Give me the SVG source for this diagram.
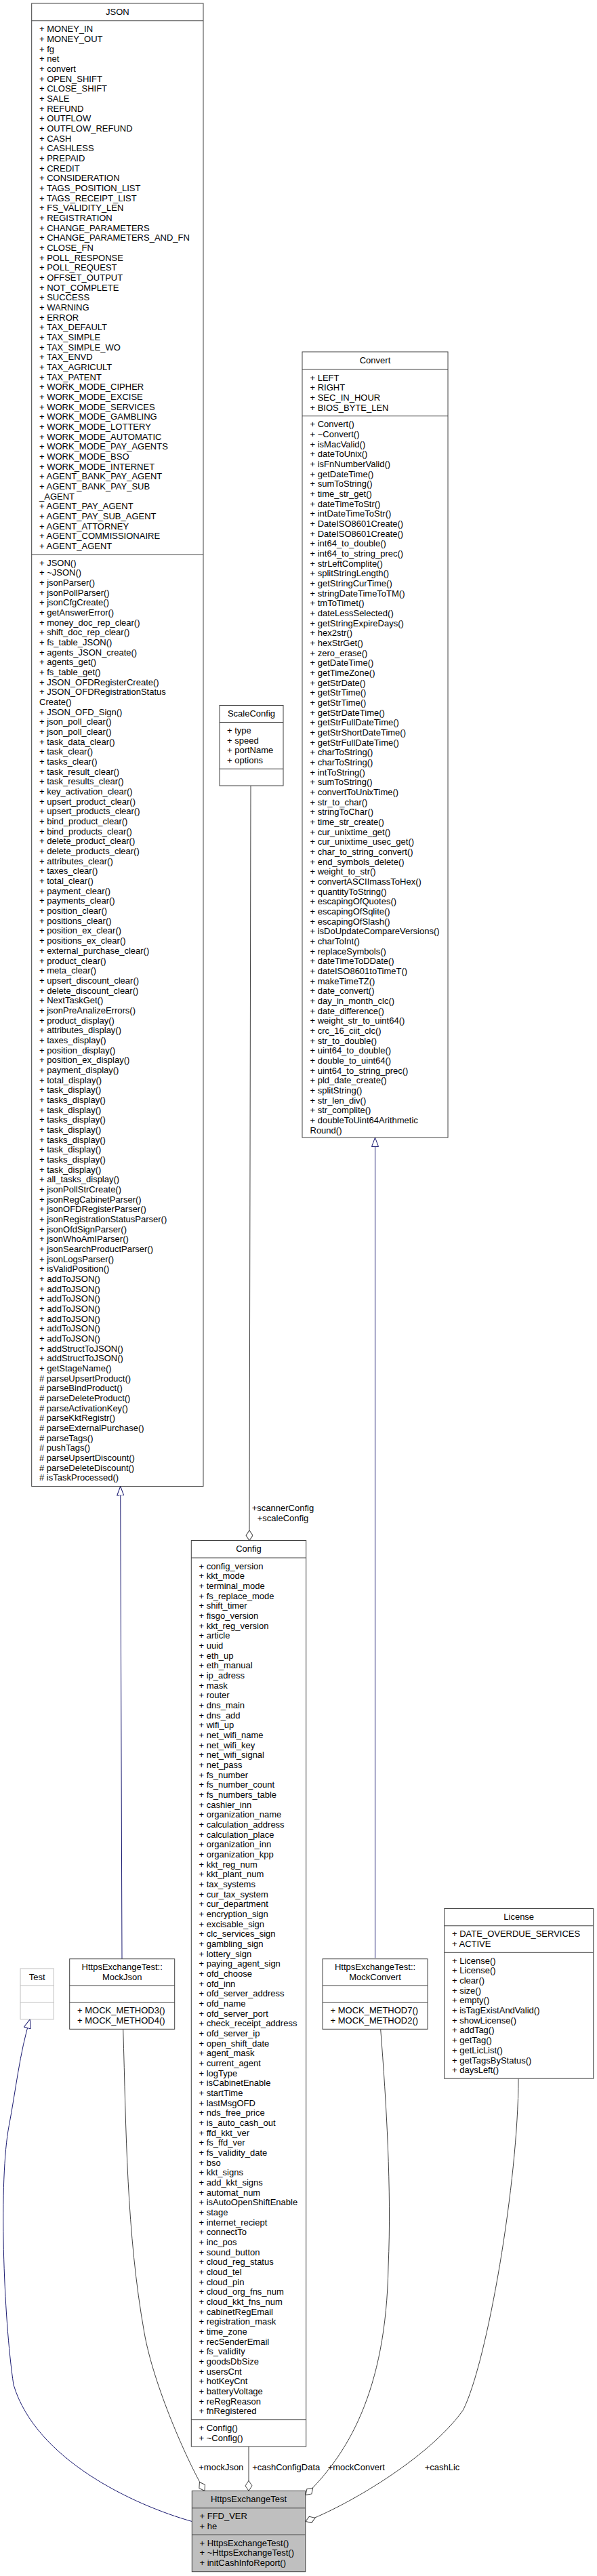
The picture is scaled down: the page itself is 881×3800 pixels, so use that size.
<svg xmlns="http://www.w3.org/2000/svg" width="881" height="3800" viewBox="0 0 881 3800">
<style>
rect.n{fill:#fff;stroke:#404040;stroke-width:1}
rect.f{fill:#bfbfbf;stroke:#404040;stroke-width:1}
rect.g{fill:#fff;stroke:#bfbfbf;stroke-width:1}
line.s{stroke:#404040;stroke-width:1}
line.sg{stroke:#bfbfbf;stroke-width:1}
text{font-family:"Liberation Sans",Arial,Helvetica,sans-serif;font-size:13px;fill:#000}
text.m{text-anchor:middle}
path.inh{fill:none;stroke:#191970;stroke-width:1}
path.agg{fill:none;stroke:#404040;stroke-width:1}
</style>
<defs>
<marker id="tri" markerUnits="userSpaceOnUse" markerWidth="15" markerHeight="11" refX="14" refY="5.5" orient="auto"><path d="M0.5,0.5 L14,5.5 L0.5,10.5 Z" fill="#fff" stroke="#191970"/></marker>
<marker id="dia" markerUnits="userSpaceOnUse" markerWidth="17" markerHeight="12" refX="15.5" refY="5.5" orient="auto"><path d="M0.5,5.5 L8,0.5 L15.5,5.5 L8,10.5 Z" fill="#fff" stroke="#404040"/></marker>
</defs>

<g id="connectors">
<path class="inh" d="M180,2889.7 L177.7,2192.5" marker-end="url(#tri)"/>
<path class="inh" d="M553.5,2888.2 L553.5,1678" marker-end="url(#tri)"/>
<path class="inh" d="M283.3,3719.5 C196.9,3695.2 53,3628 20,3518 C5,3418 -1.9,3214 13.3,3135.6 C22.8,3086.6 29.3,3026.2 44.3,2978.7" marker-end="url(#tri)"/>
<path class="agg" d="M370,1159 L368,2272.5" marker-end="url(#dia)"/>
<path class="agg" d="M181.7,2993.3 C186.2,3143.3 186.6,3294 213,3441.6 C227.1,3520.3 276.7,3631.3 302,3674.4" marker-end="url(#dia)"/>
<path class="agg" d="M367,3609 L367,3674.4" marker-end="url(#dia)"/>
<path class="agg" d="M561.7,2993.8 C570,3100 578,3230 573,3343 C570,3530 511,3622 451,3680.6" marker-end="url(#dia)"/>
<path class="agg" d="M765,3066.2 C765,3216 719.3,3484.3 683.3,3555.5 C631,3628.4 507.4,3698.5 451,3719.5" marker-end="url(#dia)"/>
<text class="m" x="417.5" y="2229">+scannerConfig</text>
<text class="m" x="417.5" y="2244">+scaleConfig</text>
<text class="m" x="326.3" y="3644">+mockJson</text>
<text class="m" x="422.2" y="3644">+cashConfigData</text>
<text class="m" x="525.8" y="3644">+mockConvert</text>
<text class="m" x="652.5" y="3644">+cashLic</text>
</g>

<g id="JSON">
<rect class="n" x="46.7" y="5" width="253.3" height="2187.5"/>
<line class="s" x1="46.7" y1="30.7" x2="300" y2="30.7"/>
<line class="s" x1="46.7" y1="818.2" x2="300" y2="818.2"/>
<text class="m" x="173.4" y="22">JSON</text>
<text y="47.2"><tspan x="58">+ MONEY_IN</tspan><tspan x="58" dy="14.67">+ MONEY_OUT</tspan><tspan x="58" dy="14.67">+ fg</tspan><tspan x="58" dy="14.67">+ net</tspan><tspan x="58" dy="14.67">+ convert</tspan><tspan x="58" dy="14.67">+ OPEN_SHIFT</tspan><tspan x="58" dy="14.67">+ CLOSE_SHIFT</tspan><tspan x="58" dy="14.67">+ SALE</tspan><tspan x="58" dy="14.67">+ REFUND</tspan><tspan x="58" dy="14.67">+ OUTFLOW</tspan><tspan x="58" dy="14.67">+ OUTFLOW_REFUND</tspan><tspan x="58" dy="14.67">+ CASH</tspan><tspan x="58" dy="14.67">+ CASHLESS</tspan><tspan x="58" dy="14.67">+ PREPAID</tspan><tspan x="58" dy="14.67">+ CREDIT</tspan><tspan x="58" dy="14.67">+ CONSIDERATION</tspan><tspan x="58" dy="14.67">+ TAGS_POSITION_LIST</tspan><tspan x="58" dy="14.67">+ TAGS_RECEIPT_LIST</tspan><tspan x="58" dy="14.67">+ FS_VALIDITY_LEN</tspan><tspan x="58" dy="14.67">+ REGISTRATION</tspan><tspan x="58" dy="14.67">+ CHANGE_PARAMETERS</tspan><tspan x="58" dy="14.67">+ CHANGE_PARAMETERS_AND_FN</tspan><tspan x="58" dy="14.67">+ CLOSE_FN</tspan><tspan x="58" dy="14.67">+ POLL_RESPONSE</tspan><tspan x="58" dy="14.67">+ POLL_REQUEST</tspan><tspan x="58" dy="14.67">+ OFFSET_OUTPUT</tspan><tspan x="58" dy="14.67">+ NOT_COMPLETE</tspan><tspan x="58" dy="14.67">+ SUCCESS</tspan><tspan x="58" dy="14.67">+ WARNING</tspan><tspan x="58" dy="14.67">+ ERROR</tspan><tspan x="58" dy="14.67">+ TAX_DEFAULT</tspan><tspan x="58" dy="14.67">+ TAX_SIMPLE</tspan><tspan x="58" dy="14.67">+ TAX_SIMPLE_WO</tspan><tspan x="58" dy="14.67">+ TAX_ENVD</tspan><tspan x="58" dy="14.67">+ TAX_AGRICULT</tspan><tspan x="58" dy="14.67">+ TAX_PATENT</tspan><tspan x="58" dy="14.67">+ WORK_MODE_CIPHER</tspan><tspan x="58" dy="14.67">+ WORK_MODE_EXCISE</tspan><tspan x="58" dy="14.67">+ WORK_MODE_SERVICES</tspan><tspan x="58" dy="14.67">+ WORK_MODE_GAMBLING</tspan><tspan x="58" dy="14.67">+ WORK_MODE_LOTTERY</tspan><tspan x="58" dy="14.67">+ WORK_MODE_AUTOMATIC</tspan><tspan x="58" dy="14.67">+ WORK_MODE_PAY_AGENTS</tspan><tspan x="58" dy="14.67">+ WORK_MODE_BSO</tspan><tspan x="58" dy="14.67">+ WORK_MODE_INTERNET</tspan><tspan x="58" dy="14.67">+ AGENT_BANK_PAY_AGENT</tspan><tspan x="58" dy="14.67">+ AGENT_BANK_PAY_SUB</tspan><tspan x="58" dy="14.67">_AGENT</tspan><tspan x="58" dy="14.67">+ AGENT_PAY_AGENT</tspan><tspan x="58" dy="14.67">+ AGENT_PAY_SUB_AGENT</tspan><tspan x="58" dy="14.67">+ AGENT_ATTORNEY</tspan><tspan x="58" dy="14.67">+ AGENT_COMMISSIONAIRE</tspan><tspan x="58" dy="14.67">+ AGENT_AGENT</tspan></text>
<text y="834.7"><tspan x="58">+ JSON()</tspan><tspan x="58" dy="14.67">+ ~JSON()</tspan><tspan x="58" dy="14.67">+ jsonParser()</tspan><tspan x="58" dy="14.67">+ jsonPollParser()</tspan><tspan x="58" dy="14.67">+ jsonCfgCreate()</tspan><tspan x="58" dy="14.67">+ getAnswerError()</tspan><tspan x="58" dy="14.67">+ money_doc_rep_clear()</tspan><tspan x="58" dy="14.67">+ shift_doc_rep_clear()</tspan><tspan x="58" dy="14.67">+ fs_table_JSON()</tspan><tspan x="58" dy="14.67">+ agents_JSON_create()</tspan><tspan x="58" dy="14.67">+ agents_get()</tspan><tspan x="58" dy="14.67">+ fs_table_get()</tspan><tspan x="58" dy="14.67">+ JSON_OFDRegisterCreate()</tspan><tspan x="58" dy="14.67">+ JSON_OFDRegistrationStatus</tspan><tspan x="58" dy="14.67">Create()</tspan><tspan x="58" dy="14.67">+ JSON_OFD_Sign()</tspan><tspan x="58" dy="14.67">+ json_poll_clear()</tspan><tspan x="58" dy="14.67">+ json_poll_clear()</tspan><tspan x="58" dy="14.67">+ task_data_clear()</tspan><tspan x="58" dy="14.67">+ task_clear()</tspan><tspan x="58" dy="14.67">+ tasks_clear()</tspan><tspan x="58" dy="14.67">+ task_result_clear()</tspan><tspan x="58" dy="14.67">+ task_results_clear()</tspan><tspan x="58" dy="14.67">+ key_activation_clear()</tspan><tspan x="58" dy="14.67">+ upsert_product_clear()</tspan><tspan x="58" dy="14.67">+ upsert_products_clear()</tspan><tspan x="58" dy="14.67">+ bind_product_clear()</tspan><tspan x="58" dy="14.67">+ bind_products_clear()</tspan><tspan x="58" dy="14.67">+ delete_product_clear()</tspan><tspan x="58" dy="14.67">+ delete_products_clear()</tspan><tspan x="58" dy="14.67">+ attributes_clear()</tspan><tspan x="58" dy="14.67">+ taxes_clear()</tspan><tspan x="58" dy="14.67">+ total_clear()</tspan><tspan x="58" dy="14.67">+ payment_clear()</tspan><tspan x="58" dy="14.67">+ payments_clear()</tspan><tspan x="58" dy="14.67">+ position_clear()</tspan><tspan x="58" dy="14.67">+ positions_clear()</tspan><tspan x="58" dy="14.67">+ position_ex_clear()</tspan><tspan x="58" dy="14.67">+ positions_ex_clear()</tspan><tspan x="58" dy="14.67">+ external_purchase_clear()</tspan><tspan x="58" dy="14.67">+ product_clear()</tspan><tspan x="58" dy="14.67">+ meta_clear()</tspan><tspan x="58" dy="14.67">+ upsert_discount_clear()</tspan><tspan x="58" dy="14.67">+ delete_discount_clear()</tspan><tspan x="58" dy="14.67">+ NextTaskGet()</tspan><tspan x="58" dy="14.67">+ jsonPreAnalizeErrors()</tspan><tspan x="58" dy="14.67">+ product_display()</tspan><tspan x="58" dy="14.67">+ attributes_display()</tspan><tspan x="58" dy="14.67">+ taxes_display()</tspan><tspan x="58" dy="14.67">+ position_display()</tspan><tspan x="58" dy="14.67">+ position_ex_display()</tspan><tspan x="58" dy="14.67">+ payment_display()</tspan><tspan x="58" dy="14.67">+ total_display()</tspan><tspan x="58" dy="14.67">+ task_display()</tspan><tspan x="58" dy="14.67">+ tasks_display()</tspan><tspan x="58" dy="14.67">+ task_display()</tspan><tspan x="58" dy="14.67">+ tasks_display()</tspan><tspan x="58" dy="14.67">+ task_display()</tspan><tspan x="58" dy="14.67">+ tasks_display()</tspan><tspan x="58" dy="14.67">+ task_display()</tspan><tspan x="58" dy="14.67">+ tasks_display()</tspan><tspan x="58" dy="14.67">+ task_display()</tspan><tspan x="58" dy="14.67">+ all_tasks_display()</tspan><tspan x="58" dy="14.67">+ jsonPollStrCreate()</tspan><tspan x="58" dy="14.67">+ jsonRegCabinetParser()</tspan><tspan x="58" dy="14.67">+ jsonOFDRegisterParser()</tspan><tspan x="58" dy="14.67">+ jsonRegistrationStatusParser()</tspan><tspan x="58" dy="14.67">+ jsonOfdSignParser()</tspan><tspan x="58" dy="14.67">+ jsonWhoAmIParser()</tspan><tspan x="58" dy="14.67">+ jsonSearchProductParser()</tspan><tspan x="58" dy="14.67">+ jsonLogsParser()</tspan><tspan x="58" dy="14.67">+ isValidPosition()</tspan><tspan x="58" dy="14.67">+ addToJSON()</tspan><tspan x="58" dy="14.67">+ addToJSON()</tspan><tspan x="58" dy="14.67">+ addToJSON()</tspan><tspan x="58" dy="14.67">+ addToJSON()</tspan><tspan x="58" dy="14.67">+ addToJSON()</tspan><tspan x="58" dy="14.67">+ addToJSON()</tspan><tspan x="58" dy="14.67">+ addToJSON()</tspan><tspan x="58" dy="14.67">+ addStructToJSON()</tspan><tspan x="58" dy="14.67">+ addStructToJSON()</tspan><tspan x="58" dy="14.67">+ getStageName()</tspan><tspan x="58" dy="14.67"># parseUpsertProduct()</tspan><tspan x="58" dy="14.67"># parseBindProduct()</tspan><tspan x="58" dy="14.67"># parseDeleteProduct()</tspan><tspan x="58" dy="14.67"># parseActivationKey()</tspan><tspan x="58" dy="14.67"># parseKktRegistr()</tspan><tspan x="58" dy="14.67"># parseExternalPurchase()</tspan><tspan x="58" dy="14.67"># parseTags()</tspan><tspan x="58" dy="14.67"># pushTags()</tspan><tspan x="58" dy="14.67"># parseUpsertDiscount()</tspan><tspan x="58" dy="14.67"># parseDeleteDiscount()</tspan><tspan x="58" dy="14.67"># isTaskProcessed()</tspan></text>
</g>

<g id="Convert">
<rect class="n" x="446" y="519" width="215" height="1159"/>
<line class="s" x1="446" y1="545" x2="661" y2="545"/>
<line class="s" x1="446" y1="613.7" x2="661" y2="613.7"/>
<text class="m" x="553.5" y="535.5">Convert</text>
<text y="561.5"><tspan x="457.5">+ LEFT</tspan><tspan x="457.5" dy="14.67">+ RIGHT</tspan><tspan x="457.5" dy="14.67">+ SEC_IN_HOUR</tspan><tspan x="457.5" dy="14.67">+ BIOS_BYTE_LEN</tspan></text>
<text y="630.2"><tspan x="457.5">+ Convert()</tspan><tspan x="457.5" dy="14.67">+ ~Convert()</tspan><tspan x="457.5" dy="14.67">+ isMacValid()</tspan><tspan x="457.5" dy="14.67">+ dateToUnix()</tspan><tspan x="457.5" dy="14.67">+ isFnNumberValid()</tspan><tspan x="457.5" dy="14.67">+ getDateTime()</tspan><tspan x="457.5" dy="14.67">+ sumToString()</tspan><tspan x="457.5" dy="14.67">+ time_str_get()</tspan><tspan x="457.5" dy="14.67">+ dateTimeToStr()</tspan><tspan x="457.5" dy="14.67">+ intDateTimeToStr()</tspan><tspan x="457.5" dy="14.67">+ DateISO8601Create()</tspan><tspan x="457.5" dy="14.67">+ DateISO8601Create()</tspan><tspan x="457.5" dy="14.67">+ int64_to_double()</tspan><tspan x="457.5" dy="14.67">+ int64_to_string_prec()</tspan><tspan x="457.5" dy="14.67">+ strLeftComplite()</tspan><tspan x="457.5" dy="14.67">+ splitStringLength()</tspan><tspan x="457.5" dy="14.67">+ getStringCurTime()</tspan><tspan x="457.5" dy="14.67">+ stringDateTimeToTM()</tspan><tspan x="457.5" dy="14.67">+ tmToTimet()</tspan><tspan x="457.5" dy="14.67">+ dateLessSelected()</tspan><tspan x="457.5" dy="14.67">+ getStringExpireDays()</tspan><tspan x="457.5" dy="14.67">+ hex2str()</tspan><tspan x="457.5" dy="14.67">+ hexStrGet()</tspan><tspan x="457.5" dy="14.67">+ zero_erase()</tspan><tspan x="457.5" dy="14.67">+ getDateTime()</tspan><tspan x="457.5" dy="14.67">+ getTimeZone()</tspan><tspan x="457.5" dy="14.67">+ getStrDate()</tspan><tspan x="457.5" dy="14.67">+ getStrTime()</tspan><tspan x="457.5" dy="14.67">+ getStrTime()</tspan><tspan x="457.5" dy="14.67">+ getStrDateTime()</tspan><tspan x="457.5" dy="14.67">+ getStrFullDateTime()</tspan><tspan x="457.5" dy="14.67">+ getStrShortDateTime()</tspan><tspan x="457.5" dy="14.67">+ getStrFullDateTime()</tspan><tspan x="457.5" dy="14.67">+ charToString()</tspan><tspan x="457.5" dy="14.67">+ charToString()</tspan><tspan x="457.5" dy="14.67">+ intToString()</tspan><tspan x="457.5" dy="14.67">+ sumToString()</tspan><tspan x="457.5" dy="14.67">+ convertToUnixTime()</tspan><tspan x="457.5" dy="14.67">+ str_to_char()</tspan><tspan x="457.5" dy="14.67">+ stringToChar()</tspan><tspan x="457.5" dy="14.67">+ time_str_create()</tspan><tspan x="457.5" dy="14.67">+ cur_unixtime_get()</tspan><tspan x="457.5" dy="14.67">+ cur_unixtime_usec_get()</tspan><tspan x="457.5" dy="14.67">+ char_to_string_convert()</tspan><tspan x="457.5" dy="14.67">+ end_symbols_delete()</tspan><tspan x="457.5" dy="14.67">+ weight_to_str()</tspan><tspan x="457.5" dy="14.67">+ convertASCIImassToHex()</tspan><tspan x="457.5" dy="14.67">+ quantityToString()</tspan><tspan x="457.5" dy="14.67">+ escapingOfQuotes()</tspan><tspan x="457.5" dy="14.67">+ escapingOfSqlite()</tspan><tspan x="457.5" dy="14.67">+ escapingOfSlash()</tspan><tspan x="457.5" dy="14.67">+ isDoUpdateCompareVersions()</tspan><tspan x="457.5" dy="14.67">+ charToInt()</tspan><tspan x="457.5" dy="14.67">+ replaceSymbols()</tspan><tspan x="457.5" dy="14.67">+ dateTimeToDDate()</tspan><tspan x="457.5" dy="14.67">+ dateISO8601toTimeT()</tspan><tspan x="457.5" dy="14.67">+ makeTimeTZ()</tspan><tspan x="457.5" dy="14.67">+ date_convert()</tspan><tspan x="457.5" dy="14.67">+ day_in_month_clc()</tspan><tspan x="457.5" dy="14.67">+ date_difference()</tspan><tspan x="457.5" dy="14.67">+ weight_str_to_uint64()</tspan><tspan x="457.5" dy="14.67">+ crc_16_ciit_clc()</tspan><tspan x="457.5" dy="14.67">+ str_to_double()</tspan><tspan x="457.5" dy="14.67">+ uint64_to_double()</tspan><tspan x="457.5" dy="14.67">+ double_to_uint64()</tspan><tspan x="457.5" dy="14.67">+ uint64_to_string_prec()</tspan><tspan x="457.5" dy="14.67">+ pld_date_create()</tspan><tspan x="457.5" dy="14.67">+ splitString()</tspan><tspan x="457.5" dy="14.67">+ str_len_div()</tspan><tspan x="457.5" dy="14.67">+ str_complite()</tspan><tspan x="457.5" dy="14.67">+ doubleToUint64Arithmetic</tspan><tspan x="457.5" dy="14.67">Round()</tspan></text>
</g>

<g id="ScaleConfig">
<rect class="n" x="324" y="1040.5" width="94" height="118.5"/>
<line class="s" x1="324" y1="1065.5" x2="418" y2="1065.5"/>
<line class="s" x1="324" y1="1134.2" x2="418" y2="1134.2"/>
<text class="m" x="371" y="1057">ScaleConfig</text>
<text y="1082"><tspan x="335">+ type</tspan><tspan x="335" dy="14.67">+ speed</tspan><tspan x="335" dy="14.67">+ portName</tspan><tspan x="335" dy="14.67">+ options</tspan></text>
</g>

<g id="Config">
<rect class="n" x="282.3" y="2272.5" width="169.4" height="1336.5"/>
<line class="s" x1="282.3" y1="2298" x2="451.7" y2="2298"/>
<line class="s" x1="282.3" y1="3569.6" x2="451.7" y2="3569.6"/>
<text class="m" x="367" y="2289">Config</text>
<text y="2314.5"><tspan x="293.5">+ config_version</tspan><tspan x="293.5" dy="14.67">+ kkt_mode</tspan><tspan x="293.5" dy="14.67">+ terminal_mode</tspan><tspan x="293.5" dy="14.67">+ fs_replace_mode</tspan><tspan x="293.5" dy="14.67">+ shift_timer</tspan><tspan x="293.5" dy="14.67">+ fisgo_version</tspan><tspan x="293.5" dy="14.67">+ kkt_reg_version</tspan><tspan x="293.5" dy="14.67">+ article</tspan><tspan x="293.5" dy="14.67">+ uuid</tspan><tspan x="293.5" dy="14.67">+ eth_up</tspan><tspan x="293.5" dy="14.67">+ eth_manual</tspan><tspan x="293.5" dy="14.67">+ ip_adress</tspan><tspan x="293.5" dy="14.67">+ mask</tspan><tspan x="293.5" dy="14.67">+ router</tspan><tspan x="293.5" dy="14.67">+ dns_main</tspan><tspan x="293.5" dy="14.67">+ dns_add</tspan><tspan x="293.5" dy="14.67">+ wifi_up</tspan><tspan x="293.5" dy="14.67">+ net_wifi_name</tspan><tspan x="293.5" dy="14.67">+ net_wifi_key</tspan><tspan x="293.5" dy="14.67">+ net_wifi_signal</tspan><tspan x="293.5" dy="14.67">+ net_pass</tspan><tspan x="293.5" dy="14.67">+ fs_number</tspan><tspan x="293.5" dy="14.67">+ fs_number_count</tspan><tspan x="293.5" dy="14.67">+ fs_numbers_table</tspan><tspan x="293.5" dy="14.67">+ cashier_inn</tspan><tspan x="293.5" dy="14.67">+ organization_name</tspan><tspan x="293.5" dy="14.67">+ calculation_address</tspan><tspan x="293.5" dy="14.67">+ calculation_place</tspan><tspan x="293.5" dy="14.67">+ organization_inn</tspan><tspan x="293.5" dy="14.67">+ organization_kpp</tspan><tspan x="293.5" dy="14.67">+ kkt_reg_num</tspan><tspan x="293.5" dy="14.67">+ kkt_plant_num</tspan><tspan x="293.5" dy="14.67">+ tax_systems</tspan><tspan x="293.5" dy="14.67">+ cur_tax_system</tspan><tspan x="293.5" dy="14.67">+ cur_department</tspan><tspan x="293.5" dy="14.67">+ encryption_sign</tspan><tspan x="293.5" dy="14.67">+ excisable_sign</tspan><tspan x="293.5" dy="14.67">+ clc_services_sign</tspan><tspan x="293.5" dy="14.67">+ gambling_sign</tspan><tspan x="293.5" dy="14.67">+ lottery_sign</tspan><tspan x="293.5" dy="14.67">+ paying_agent_sign</tspan><tspan x="293.5" dy="14.67">+ ofd_choose</tspan><tspan x="293.5" dy="14.67">+ ofd_inn</tspan><tspan x="293.5" dy="14.67">+ ofd_server_address</tspan><tspan x="293.5" dy="14.67">+ ofd_name</tspan><tspan x="293.5" dy="14.67">+ ofd_server_port</tspan><tspan x="293.5" dy="14.67">+ check_receipt_address</tspan><tspan x="293.5" dy="14.67">+ ofd_server_ip</tspan><tspan x="293.5" dy="14.67">+ open_shift_date</tspan><tspan x="293.5" dy="14.67">+ agent_mask</tspan><tspan x="293.5" dy="14.67">+ current_agent</tspan><tspan x="293.5" dy="14.67">+ logType</tspan><tspan x="293.5" dy="14.67">+ isCabinetEnable</tspan><tspan x="293.5" dy="14.67">+ startTime</tspan><tspan x="293.5" dy="14.67">+ lastMsgOFD</tspan><tspan x="293.5" dy="14.67">+ nds_free_price</tspan><tspan x="293.5" dy="14.67">+ is_auto_cash_out</tspan><tspan x="293.5" dy="14.67">+ ffd_kkt_ver</tspan><tspan x="293.5" dy="14.67">+ fs_ffd_ver</tspan><tspan x="293.5" dy="14.67">+ fs_validity_date</tspan><tspan x="293.5" dy="14.67">+ bso</tspan><tspan x="293.5" dy="14.67">+ kkt_signs</tspan><tspan x="293.5" dy="14.67">+ add_kkt_signs</tspan><tspan x="293.5" dy="14.67">+ automat_num</tspan><tspan x="293.5" dy="14.67">+ isAutoOpenShiftEnable</tspan><tspan x="293.5" dy="14.67">+ stage</tspan><tspan x="293.5" dy="14.67">+ internet_reciept</tspan><tspan x="293.5" dy="14.67">+ connectTo</tspan><tspan x="293.5" dy="14.67">+ inc_pos</tspan><tspan x="293.5" dy="14.67">+ sound_button</tspan><tspan x="293.5" dy="14.67">+ cloud_reg_status</tspan><tspan x="293.5" dy="14.67">+ cloud_tel</tspan><tspan x="293.5" dy="14.67">+ cloud_pin</tspan><tspan x="293.5" dy="14.67">+ cloud_org_fns_num</tspan><tspan x="293.5" dy="14.67">+ cloud_kkt_fns_num</tspan><tspan x="293.5" dy="14.67">+ cabinetRegEmail</tspan><tspan x="293.5" dy="14.67">+ registration_mask</tspan><tspan x="293.5" dy="14.67">+ time_zone</tspan><tspan x="293.5" dy="14.67">+ recSenderEmail</tspan><tspan x="293.5" dy="14.67">+ fs_validity</tspan><tspan x="293.5" dy="14.67">+ goodsDbSize</tspan><tspan x="293.5" dy="14.67">+ usersCnt</tspan><tspan x="293.5" dy="14.67">+ hotKeyCnt</tspan><tspan x="293.5" dy="14.67">+ batteryVoltage</tspan><tspan x="293.5" dy="14.67">+ reRegReason</tspan><tspan x="293.5" dy="14.67">+ fnRegistered</tspan></text>
<text y="3586"><tspan x="293.5">+ Config()</tspan><tspan x="293.5" dy="14.67">+ ~Config()</tspan></text>
</g>

<g id="Test">
<rect class="g" x="30" y="2904" width="49.3" height="74.7"/>
<line class="sg" x1="30" y1="2929" x2="79.3" y2="2929"/>
<line class="sg" x1="30" y1="2953.7" x2="79.3" y2="2953.7"/>
<text class="m" x="54.7" y="2920.5">Test</text>
</g>

<g id="MockJson">
<rect class="n" x="102.7" y="2889.7" width="155" height="103.6"/>
<line class="s" x1="102.7" y1="2929" x2="257.7" y2="2929"/>
<line class="s" x1="102.7" y1="2953.7" x2="257.7" y2="2953.7"/>
<text class="m" x="180.2" y="2906.2">HttpsExchangeTest::</text>
<text class="m" x="180.2" y="2920.9">MockJson</text>
<text y="2970.2"><tspan x="114">+ MOCK_METHOD3()</tspan><tspan x="114" dy="14.67">+ MOCK_METHOD4()</tspan></text>
</g>

<g id="MockConvert">
<rect class="n" x="476" y="2889.7" width="155" height="103.6"/>
<line class="s" x1="476" y1="2929" x2="631" y2="2929"/>
<line class="s" x1="476" y1="2953.7" x2="631" y2="2953.7"/>
<text class="m" x="553.5" y="2906.2">HttpsExchangeTest::</text>
<text class="m" x="553.5" y="2920.9">MockConvert</text>
<text y="2970.2"><tspan x="487.5">+ MOCK_METHOD7()</tspan><tspan x="487.5" dy="14.67">+ MOCK_METHOD2()</tspan></text>
</g>

<g id="License">
<rect class="n" x="655.7" y="2815.5" width="220" height="250.7"/>
<line class="s" x1="655.7" y1="2840.8" x2="875.7" y2="2840.8"/>
<line class="s" x1="655.7" y1="2880.3" x2="875.7" y2="2880.3"/>
<text class="m" x="765.7" y="2832">License</text>
<text y="2857.3"><tspan x="667">+ DATE_OVERDUE_SERVICES</tspan><tspan x="667" dy="14.67">+ ACTIVE</tspan></text>
<text y="2896.8"><tspan x="667">+ License()</tspan><tspan x="667" dy="14.67">+ License()</tspan><tspan x="667" dy="14.67">+ clear()</tspan><tspan x="667" dy="14.67">+ size()</tspan><tspan x="667" dy="14.67">+ empty()</tspan><tspan x="667" dy="14.67">+ isTagExistAndValid()</tspan><tspan x="667" dy="14.67">+ showLicense()</tspan><tspan x="667" dy="14.67">+ addTag()</tspan><tspan x="667" dy="14.67">+ getTag()</tspan><tspan x="667" dy="14.67">+ getLicList()</tspan><tspan x="667" dy="14.67">+ getTagsByStatus()</tspan><tspan x="667" dy="14.67">+ daysLeft()</tspan></text>
</g>

<g id="HttpsExchangeTest">
<rect class="f" x="283.3" y="3674.4" width="167.4" height="119.3"/>
<line class="s" x1="283.3" y1="3699.8" x2="450.7" y2="3699.8"/>
<line class="s" x1="283.3" y1="3739.1" x2="450.7" y2="3739.1"/>
<text class="m" x="367" y="3690.9">HttpsExchangeTest</text>
<text y="3716.3"><tspan x="294.5">+ FFD_VER</tspan><tspan x="294.5" dy="14.67">+ he</tspan></text>
<text y="3755.6"><tspan x="294.5">+ HttpsExchangeTest()</tspan><tspan x="294.5" dy="14.67">+ ~HttpsExchangeTest()</tspan><tspan x="294.5" dy="14.67">+ initCashInfoReport()</tspan></text>
</g>
</svg>
